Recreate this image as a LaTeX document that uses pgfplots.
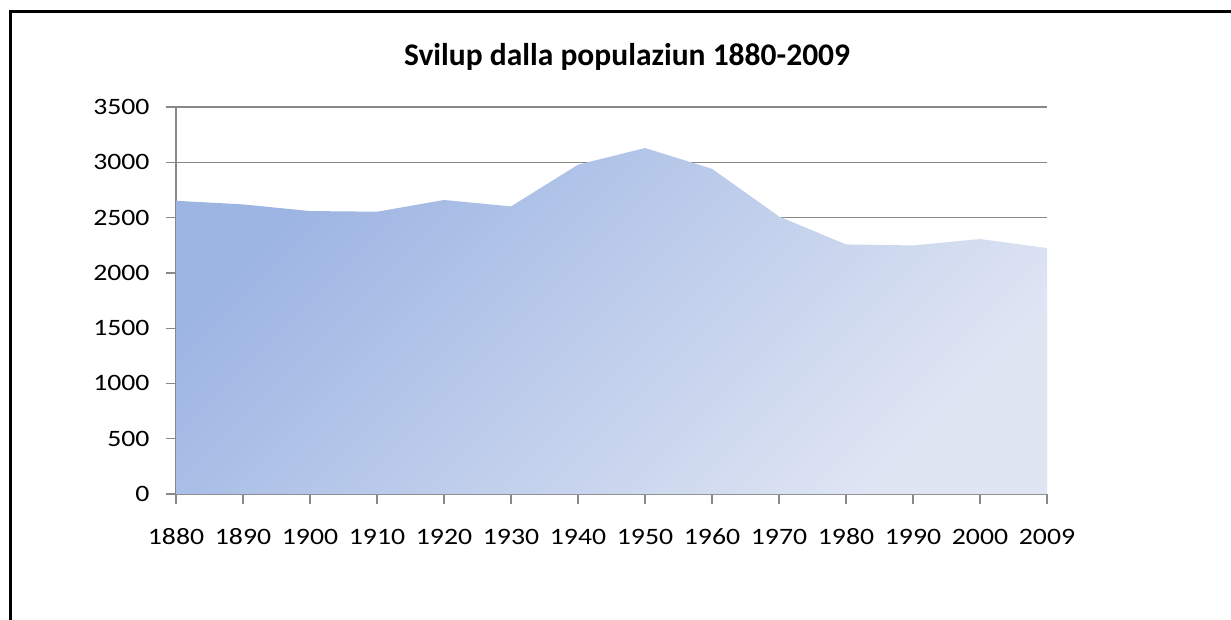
\documentclass[border=0pt]{standalone}
\usepackage{fontspec}
\setmainfont{Carlito}[FakeStretch=1.18,Numbers=Lining]
\newfontfamily\titlefont{Carlito}
\usepackage{pgfplots}
\pgfplotsset{compat=1.18}
\definecolor{gridc}{HTML}{888888}
\definecolor{fillA}{HTML}{9DB5E3}
\definecolor{fillB}{HTML}{DFE5F3}
\begin{document}
\begin{tikzpicture}[x=1pt,y=1pt]
\useasboundingbox (0pt,0pt) rectangle (1231pt,-619pt);
\fill[white] (0pt,0pt) rectangle (1231pt,-619pt);
\draw[line width=2.6pt] (10.5pt,-620pt) -- (10.5pt,-11.5pt) -- (1232pt,-11.5pt);
\node[font=\titlefont\fontsize{31.5}{36}\selectfont\bfseries, anchor=base] at (627pt,-65pt) {Svilup dalla populaziun 1880-2009};
\begin{axis}[at={(176pt,-494pt)}, anchor=south west, scale only axis,
  width=871pt, height=387pt,
  xmin=0, xmax=13, ymin=0, ymax=3500,
  ytick={0,500,...,3500},
  xtick={0,...,13},
  xticklabels={1880,1890,1900,1910,1920,1930,1940,1950,1960,1970,1980,1990,2000,2009},
  axis x line=bottom, axis y line=left,
  axis line style={-, gridc, line width=1.3pt},
  tick align=outside, major tick length=10pt,
  tick style={gridc, line width=1.3pt},
  ymajorgrids, grid style={gridc, line width=1.3pt},
  ticklabel style={font=\fontsize{23.5}{27}\selectfont, text=black},
  /pgf/number format/assume math mode=true,
  /pgf/number format/set thousands separator={},
  yticklabel style={anchor=east, xshift=-13pt},
  xticklabel style={anchor=north, text height=14.5pt, text depth=0pt, yshift=-22pt},
  clip=false,
]
\addplot[draw=none, top color=fillA, bottom color=fillB, shading angle=45] coordinates {
(0,2652) (1,2619) (2,2559) (3,2553) (4,2659) (5,2601) (6,2978)
(7,3129) (8,2941) (9,2510) (10,2257) (11,2248) (12,2306) (13,2224)
} \closedcycle;
\end{axis}
\end{tikzpicture}
\end{document}
